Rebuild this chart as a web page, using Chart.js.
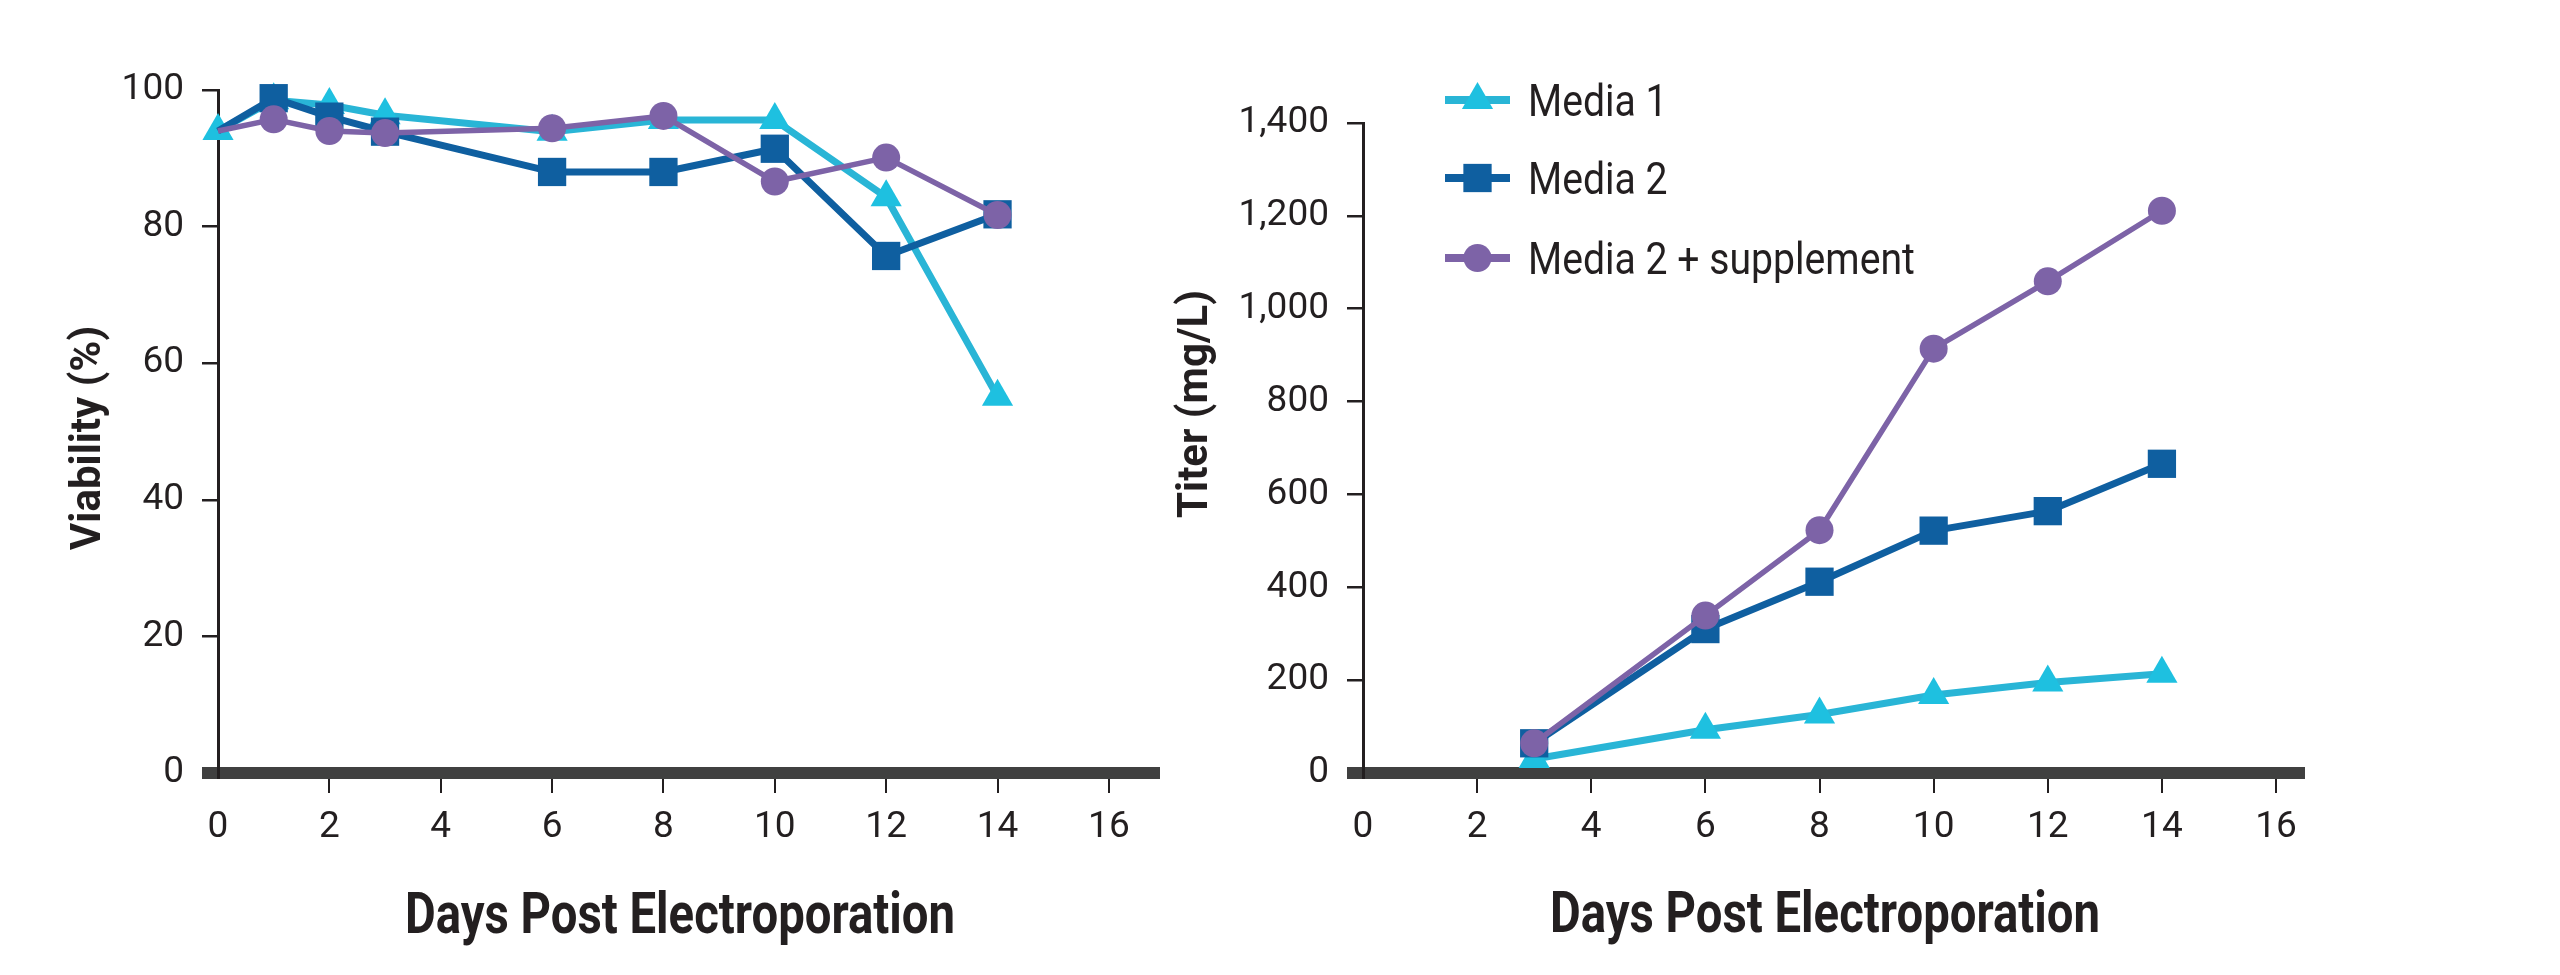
<!DOCTYPE html>
<html>
<head>
<meta charset="utf-8">
<script src="https://cdn.jsdelivr.net/npm/chart.js@4.4.0/dist/chart.umd.min.js"></script>
<style>
html,body{margin:0;padding:0;background:#fff;width:2560px;height:975px;overflow:hidden}
#c1{position:absolute;left:0;top:0;width:1180px;height:975px}
#c2{position:absolute;left:1130px;top:0;width:1195px;height:975px}
</style>
</head>
<body>
<div id="c1"><canvas id="left"></canvas></div>
<div id="c2"><canvas id="right"></canvas></div>
<script>
// ---- data ----
const seriesNames = ['Media 1', 'Media 2', 'Media 2 + supplement'];
const dayTicks = [0, 2, 4, 6, 8, 10, 12, 14, 16];
const viabilityTicks = [0, 20, 40, 60, 80, 100];
const titerTicks = [0, 200, 400, 600, 800, 1000, 1200, 1400];

const viabilityDays = [0, 1, 2, 3, 6, 8, 10, 12, 14];
const viabilityMedia1 = [94.0, 98.5, 97.8, 96.3, 93.9, 95.6, 95.6, 84.3, 55.1];
const viabilityMedia2 = [94.0, 98.8, 96.1, 93.9, 88.0, 88.0, 91.4, 75.7, 81.8];
const viabilityMedia2Supp = [94.0, 95.7, 94.0, 93.7, 94.4, 96.2, 86.6, 90.1, 81.7];

const titerDays = [3, 6, 8, 10, 12, 14];
const titerMedia1 = [30, 93, 126, 168, 195, 214];
const titerMedia2 = [64, 310, 412, 522, 564, 666];
const titerMedia2Supp = [64, 339, 523, 914, 1059, 1211];

const xTitleText = 'Days Post Electroporation';
const yTitleLeft = 'Viability (%)';
const yTitleRight = 'Titer (mg/L)';

// ---- styles ----
const INK = '#231f20';
const BAR = '#404040';
const styles = [
  {line: '#29B5D6', fill: '#1EC0E0', pointStyle: 'triangle', radius: 18, width: 7, order: 3},
  {line: '#0F5FA0', fill: '#0F5FA0', pointStyle: 'rect', radius: 20, width: 7, order: 2},
  {line: '#7D63A7', fill: '#7D63A7', pointStyle: 'circle', radius: 14, width: 5.5, order: 1}
];

Chart.defaults.font.family = 'Roboto';

function toPoints(days, vals) { return days.map((d, i) => ({x: d, y: vals[i]})); }

function makeDatasets(days, seriesList, hideFirstFor) {
  return seriesList.map((vals, i) => {
    const s = styles[i];
    return {
      label: seriesNames[i],
      data: toPoints(days, vals),
      borderColor: s.line,
      backgroundColor: s.fill,
      pointBackgroundColor: s.fill,
      pointBorderWidth: 0,
      borderWidth: s.width,
      pointStyle: s.pointStyle,
      pointRadius: c => (hideFirstFor.includes(i) && c.dataIndex === 0) ? 0 : s.radius,
      pointHoverRadius: s.radius,
      order: s.order,
      tension: 0,
      clip: false,
      borderJoinStyle: 'round'
    };
  });
}

function xScale(max) {
  return {
    type: 'linear', min: 0, max: max,
    afterBuildTicks: s => { s.ticks = dayTicks.map(v => ({value: v})); },
    afterFit: s => { s.height = 202; },
    grid: {
      drawOnChartArea: false, drawTicks: true, tickLength: 20, lineWidth: 2,
      color: c => (c.tick && c.tick.value === 0) ? 'rgba(0,0,0,0)' : INK
    },
    border: {display: true, width: 12, color: BAR},
    ticks: {font: {family: 'Roboto', size: 37}, color: INK, padding: 13, maxRotation: 0, autoSkip: false}
  };
}

function yScale(max, tickVals, width) {
  return {
    type: 'linear', min: 0, max: max,
    afterBuildTicks: s => { s.ticks = tickVals.map(v => ({value: v})); },
    afterFit: s => { s.width = width; },
    grid: {
      drawOnChartArea: false, drawTicks: true, tickLength: 16,
      lineWidth: c => (c.tick && c.tick.value === 0) ? 12 : 2.5,
      color: c => (c.tick && c.tick.value === 0) ? BAR : INK
    },
    border: {display: true, width: 3, color: INK},
    ticks: {font: {family: 'Roboto', size: 37}, color: INK, padding: 18,
      callback: v => v.toLocaleString('en-US')}
  };
}

const decorPlugin = {
  id: 'decor',
  afterDraw(chart, args, o) {
    const ctx = chart.ctx;
    ctx.save();
    ctx.fillStyle = INK;
    ctx.textBaseline = 'alphabetic';
    ctx.textAlign = 'center';
    // x title (condensed bold)
    ctx.font = 'bold 57px Roboto';
    ctx.save();
    ctx.translate(o.xTitle.x, o.xTitle.y);
    ctx.scale(o.xTitle.squeeze, 1);
    ctx.fillText(o.xTitle.text, 0, 0);
    ctx.restore();
    // y title
    ctx.font = 'bold 42px Roboto';
    ctx.save();
    ctx.translate(o.yTitle.x, o.yTitle.y);
    ctx.rotate(-Math.PI / 2);
    ctx.fillText(o.yTitle.text, 0, 0);
    ctx.restore();
    // legend
    if (o.legend) {
      const L = o.legend;
      chart.data.datasets.forEach((ds, i) => {
        const y = L.y[i];
        ctx.strokeStyle = ds.borderColor;
        ctx.lineWidth = L.lineWidth;
        ctx.beginPath();
        ctx.moveTo(L.x0, y);
        ctx.lineTo(L.x1, y);
        ctx.stroke();
        ctx.fillStyle = ds.pointBackgroundColor;
        Chart.helpers.drawPoint(ctx, {pointStyle: ds.pointStyle, radius: styles[i].radius, rotation: 0, borderWidth: 0}, (L.x0 + L.x1) / 2, y);
        ctx.fillStyle = INK;
        ctx.font = '44px Roboto';
        ctx.textAlign = 'left';
        ctx.save();
        ctx.translate(L.textX, y + L.baselineOffset);
        ctx.scale(L.squeeze, 1);
        ctx.fillText(ds.label, 0, 0);
        ctx.restore();
      });
    }
    ctx.restore();
  }
};

new Chart(document.getElementById('left'), {
  type: 'line',
  data: {datasets: makeDatasets(viabilityDays, [viabilityMedia1, viabilityMedia2, viabilityMedia2Supp], [1, 2])},
  options: {
    responsive: true, maintainAspectRatio: false, animation: false, devicePixelRatio: 1,
    layout: {padding: {top: 90, right: 21, bottom: 0, left: 0}},
    scales: {x: xScale(16.9), y: yScale(100, viabilityTicks, 218)},
    plugins: {
      legend: {display: false}, tooltip: {enabled: false},
      decor: {
        xTitle: {text: xTitleText, x: 680, y: 933, squeeze: 0.83},
        yTitle: {text: yTitleLeft, x: 100, y: 438}
      }
    }
  },
  plugins: [decorPlugin]
});

new Chart(document.getElementById('right'), {
  type: 'line',
  data: {datasets: makeDatasets(titerDays, [titerMedia1, titerMedia2, titerMedia2Supp], [])},
  options: {
    responsive: true, maintainAspectRatio: false, animation: false, devicePixelRatio: 1,
    layout: {padding: {top: 123, right: 21, bottom: 0, left: 0}},
    scales: {x: xScale(16.49), y: yScale(1400, titerTicks, 233)},
    plugins: {
      legend: {display: false}, tooltip: {enabled: false},
      decor: {
        xTitle: {text: xTitleText, x: 695, y: 932, squeeze: 0.83},
        yTitle: {text: yTitleRight, x: 77, y: 404},
        legend: {x0: 315, x1: 380, textX: 398, y: [100, 178, 258], baselineOffset: 16, lineWidth: 8, squeeze: 0.89}
      }
    }
  },
  plugins: [decorPlugin]
});
</script>
</body>
</html>
